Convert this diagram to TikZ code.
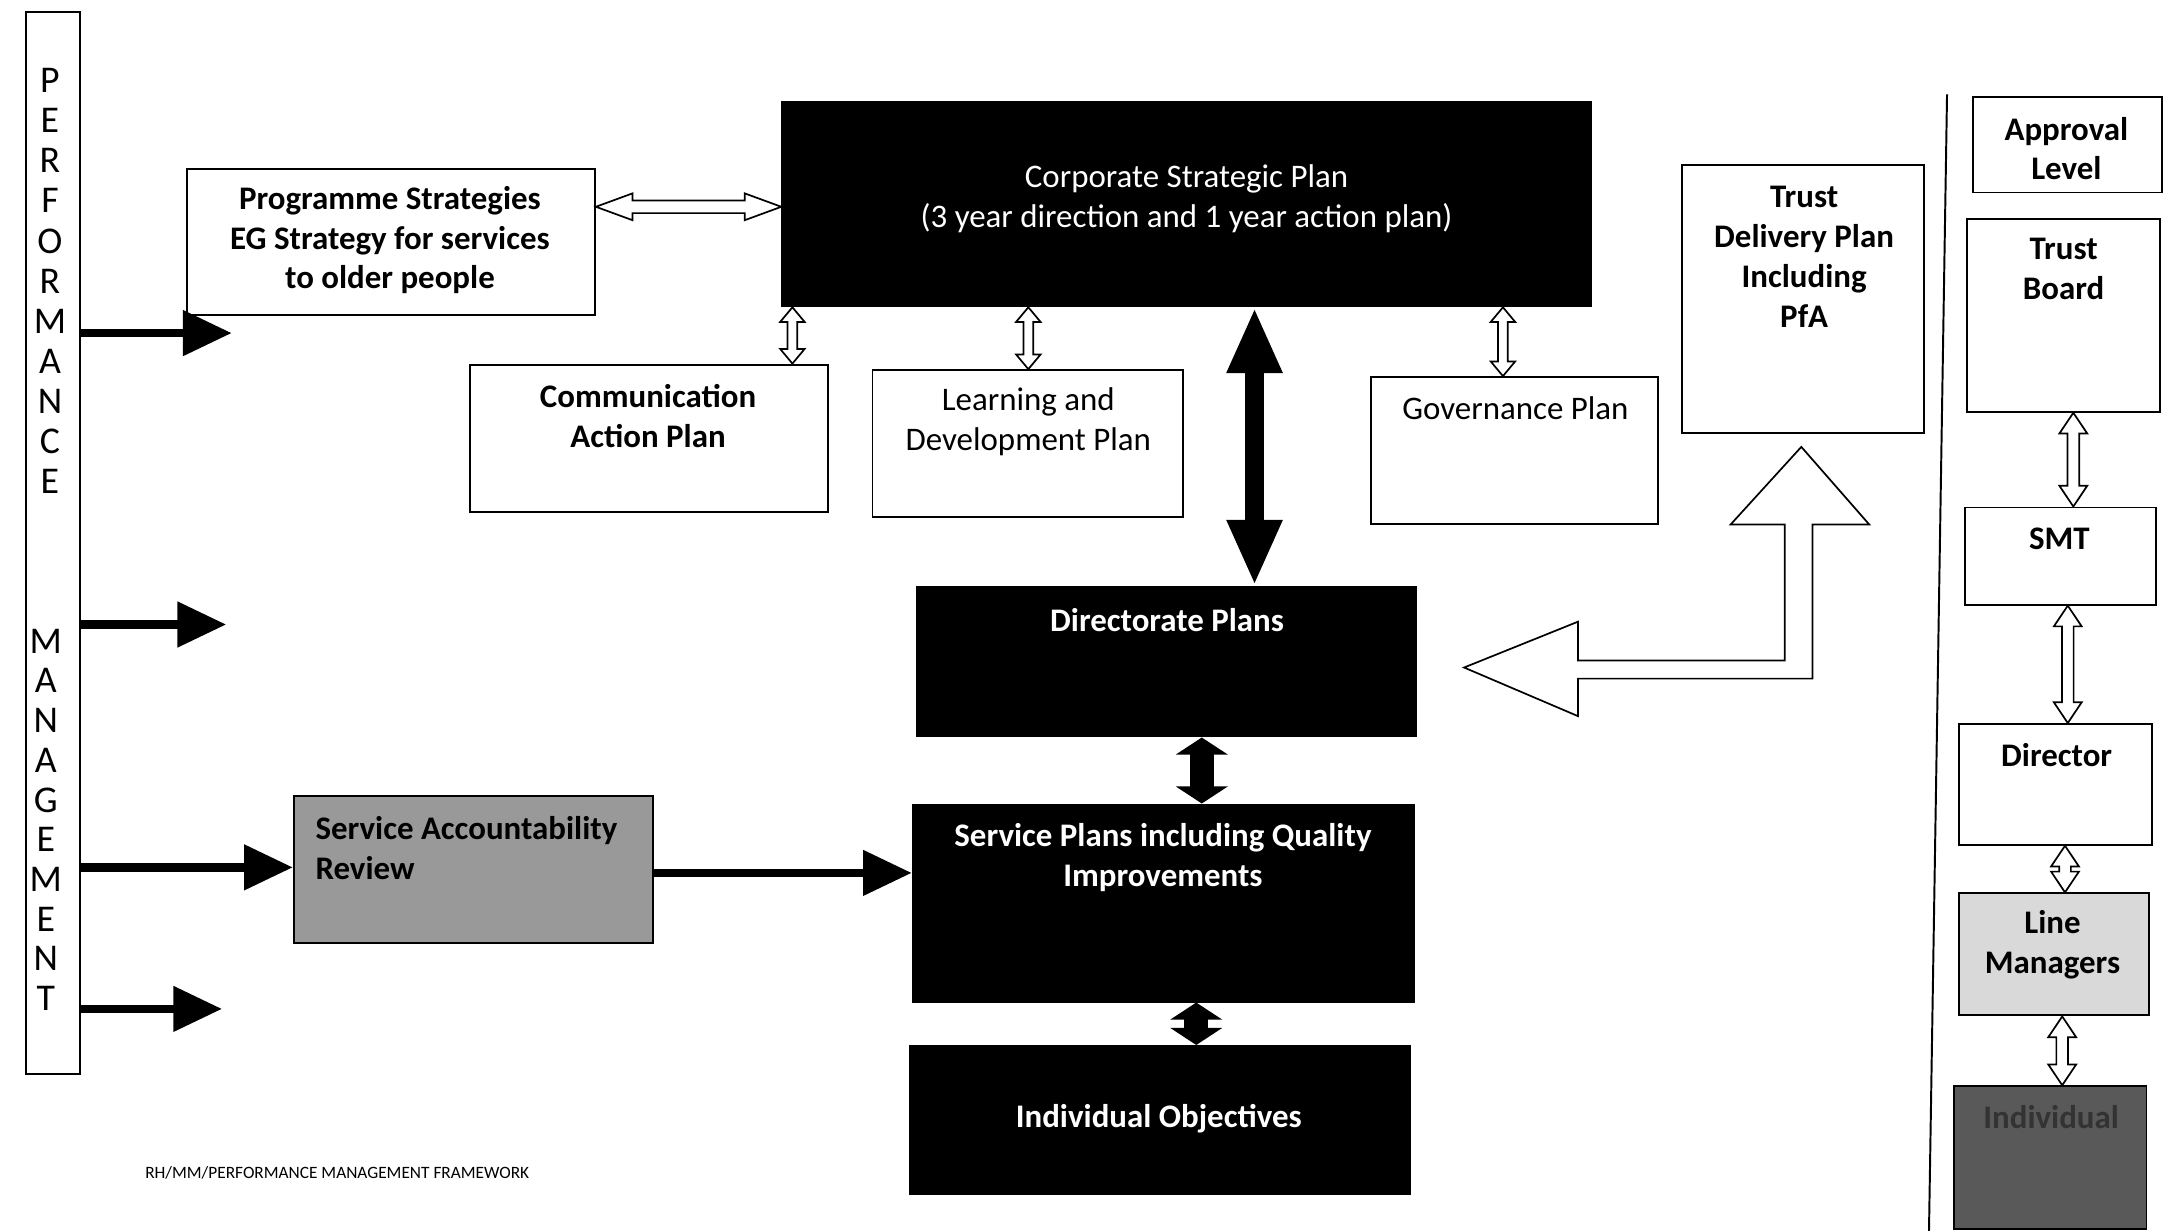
\documentclass[tikz,border=0pt]{standalone}
\usepackage{fontspec}
\setmainfont{Carlito}
\usetikzlibrary{arrows.meta,calc}

\tikzset{
	box/.style={draw, line width=0.8pt, anchor=north west, inner sep=0pt},
	txt/.style={align=center, inner sep=0pt, font=\fontsize{13.5}{16.3}\selectfont\bfseries},
	ltxt/.style={align=center, inner sep=0pt, font=\fontsize{13.5}{16.3}\selectfont},
	wtxt/.style={txt, text=white},
	letter/.style={inner sep=0pt, font=\fontsize{15.5}{16}\selectfont},
	foot/.style={inner sep=0pt, font=\fontsize{7.1}{8}\selectfont},
	pmarrow/.style={line width=3.4pt, -{Triangle[length=20pt,width=18pt]}},
	bigarrow/.style={line width=8pt, {Triangle[length=27pt,width=21pt]}-{Triangle[length=27pt,width=21pt]}},
	fatarrow/.style={line width=10pt, {Triangle[length=7pt,width=21pt]}-{Triangle[length=7pt,width=21pt]}},
	openarr/.style={draw, fill=white, line width=0.7pt, line join=miter},
}

% outlined double arrow: from, to, head length, head half width, shaft half width
\newcommand{\openarrow}[5]{%
	\draw[openarr] (#1) -- ($(#1)!#3!(#2)!#4!90:(#2)$) -- ($(#1)!#3!(#2)!#5!90:(#2)$)
	-- ($(#2)!#3!(#1)!#5!-90:(#1)$) -- ($(#2)!#3!(#1)!#4!-90:(#1)$) -- (#2)
	-- ($(#2)!#3!(#1)!#4!90:(#1)$) -- ($(#2)!#3!(#1)!#5!90:(#1)$)
	-- ($(#1)!#3!(#2)!#5!-90:(#2)$) -- ($(#1)!#3!(#2)!#4!-90:(#2)$) -- cycle;
}

\begin{document}
\begin{tikzpicture}[x=0.02cm, y=-0.02cm]
\useasboundingbox (0,0) rectangle (1568,887);

% boxes
\foreach \n/\xa/\ya/\xb/\yb in {bar/18/8/57/773,prog/134/121/428/226,comm/338/262/596/368,ld/628/266/852/372,gov/987/271/1194/377,tdp/1211/118/1386/311,appr/1421/69/1557/138,tb/1417/157/1556/296,smt/1415/365/1553/435,dr/1411/521/1550/608}{
	\node[box, minimum width={(\xb-\xa)*0.02cm}, minimum height={(\yb-\ya)*0.02cm}] (\n) at (\xa,\ya) {};
}

\foreach \n/\xa/\ya/\xb/\yb in {csp/563/73/1146/220,dir/660/422/1020/530,sp/657/579/1018/721,io/655/753/1015/860}{
	\node[box, fill=black, minimum width={(\xb-\xa)*0.02cm}, minimum height={(\yb-\ya)*0.02cm}] (\n) at (\xa,\ya) {};
}

\foreach \n/\xa/\ya/\xb/\yb/\g in {sar/211/573/470/679/40,lm/1411/643/1548/731/15,ind/1407/782/1546/885/65}{
	\node[box, fill=black!\g, minimum width={(\xb-\xa)*0.02cm}, minimum height={(\yb-\ya)*0.02cm}] (\n) at (\xa,\ya) {};
}

% texts
\foreach[count=\i] \l in {P,E,R,F,O,R,M,A,N,C,E}{
	\node[letter] (pl\i) at (36,{58+(\i-1)*28.9}) {\l};
}
\foreach[count=\i] \l in {M,A,N,A,G,E,M,E,N,T}{
	\node[letter] (ml\i) at (33,{462+(\i-1)*28.6}) {\l};
}

\node[txt] (t-prog) at (281,173) {Programme Strategies\\EG Strategy for services\\to older people};
\node[ltxt, text=white] (t-csp) at (855,143) {Corporate Strategic Plan\\(3 year direction and 1 year action plan)};
\node[txt] (t-comm) at (467,300) {Communication\\Action Plan};
\node[ltxt] (t-ld) at (741,304) {Learning and\\Development Plan};
\node[ltxt] (t-gov) at (1092,294) {Governance Plan};
\node[txt] (t-tdp) at (1300,185) {Trust\\Delivery Plan\\Including\\PfA};
\node[wtxt] (t-dir) at (841,447) {Directorate Plans};
\node[wtxt] (t-sp) at (838,618) {Service Plans including Quality\\Improvements};
\node[wtxt] (t-io) at (835,806) {Individual Objectives};
\node[txt, align=left, anchor=west] (t-sar) at (227,611) {Service Accountability\\Review};

\node[txt] (t-appr) at (1489,107) {Approval\\Level};
\node[txt] (t-tb) at (1487,194) {Trust\\Board};
\node[txt] (t-smt) at (1484,388) {SMT};
\node[txt] (t-dr) at (1482,544) {Director};
\node[txt] (t-lm) at (1479,681) {Line\\Managers};
\node[txt, text=black!80] (t-ind) at (1478,805) {Individual};

\node[foot] (foot) at (243,845) {RH/MM/PERFORMANCE MANAGEMENT FRAMEWORK};

% arrows out of the bar
\foreach \y/\x in {240/167,450/163,727/160}{
	\coordinate (pm\y) at (\x,\y);
	\draw[pmarrow] (bar.east |- pm\y) -- (pm\y);
}
\coordinate (pm625) at (0,625);
\draw[pmarrow] (bar.east |- pm625) -- (sar.west |- pm625);
\coordinate (sa629) at (0,629);
\draw[pmarrow] (sar.east |- sa629) -- (sp.west |- sa629);

% black links
\coordinate (x904) at (904,0);
\coordinate (x866) at (866,0);
\coordinate (x862) at (862,0);
\draw[bigarrow] (x904 |- csp.south) -- (x904 |- dir.north);
\draw[fatarrow] (x866 |- dir.south) -- (x866 |- sp.north);
\draw[fatarrow] (x862 |- sp.south) -- (x862 |- io.north);

% outlined links
\coordinate (y149) at (0,149);
\coordinate (h0-a) at (prog.east |- y149);
\coordinate (h0-b) at (csp.west |- y149);
\openarrow{h0-a}{h0-b}{15pt}{5.5pt}{2.6pt}

\foreach \n/\x/\a/\b in {h1/571/csp/comm,h2/741/csp/ld,h3/1083/csp/gov}{
	\coordinate (x\n) at (\x,0);
	\coordinate (\n-a) at (x\n |- \a.south);
	\coordinate (\n-b) at (x\n |- \b.north);
	\openarrow{\n-a}{\n-b}{6pt}{5pt}{2pt}
}

\foreach \n/\x/\a/\b in {r1/1494/tb/smt,r2/1490/smt/dr,r3/1488/dr/lm,r4/1486/lm/ind}{
	\coordinate (x\n) at (\x,0);
	\coordinate (\n-a) at (x\n |- \a.south);
	\coordinate (\n-b) at (x\n |- \b.north);
	\openarrow{\n-a}{\n-b}{8.5pt}{5.7pt}{2.4pt}
}

% bent arrow from the delivery plan
\draw[openarr] (1055,481) -- (1137,448) -- (1137,476) -- (1286,476) -- (1286,378) -- (1247,378)
	-- (1298,322) -- (1347,378) -- (1306,378) -- (1306,489) -- (1137,489) -- (1137,516) -- cycle;

% divider
\draw[line width=0.8pt] (1403,68) -- (1390,887);
\end{tikzpicture}
\end{document}
